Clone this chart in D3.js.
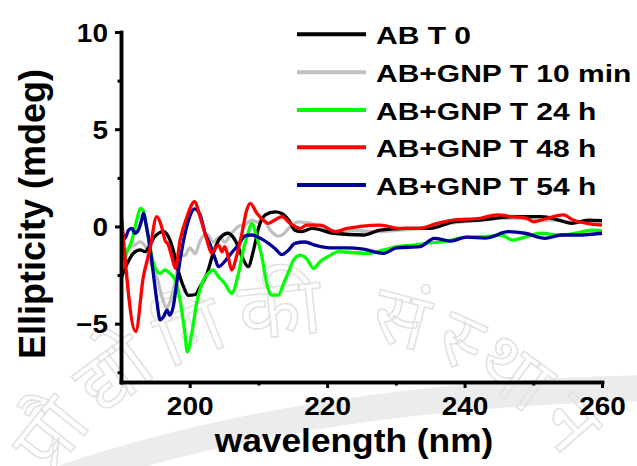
<!DOCTYPE html>
<html>
<head>
<meta charset="utf-8">
<script src="https://cdn.jsdelivr.net/npm/d3@7"></script>
<style>
  html, body { margin: 0; padding: 0; background: #ffffff; }
  svg { display: block; }
  text { font-family: "Liberation Sans", Arial, sans-serif; font-weight: bold; fill: #000; }
</style>
</head>
<body>
<svg id="chart" width="637" height="466"></svg>
<script>
// ---------------- data ----------------
const seriesNames = ["AB T 0", "AB+GNP T 10 min", "AB+GNP T 24 h", "AB+GNP T 48 h", "AB+GNP T 54 h"];
const seriesColors = ["#000000", "#c0c0c0", "#00ff00", "#ff0000", "#000099"];

const abT0_wl   = [190.1,190.8,191.8,192.8,193.5,194.2,194.9,196.2,196.9,197.6,198.3,199.1,199.8,200.8,201.5,202.5,203.4,204.4,205.6,206.6,207.8,208.5,209.3,210.0,211.0,212.4,213.4,214.4,215.3,216.3,217.8,220.9,225.3,227.7,231.6,235.0,238.4,242.3,247.1,251.2,253.7,255.6,258.0,260.0];
const abT0_mdeg = [-2.59,-1.99,-1.38,-1.21,-1.3,-0.96,-0.53,-0.27,-0.53,-1.21,-2.24,-3.1,-3.55,-3.5,-3.1,-2.45,-1.4,-0.6,-0.35,-0.7,-1.7,-2.07,-1.2,-0.1,0.59,0.75,0.67,0.33,-0.19,-0.27,-0.1,-0.35,-0.44,-0.19,-0.1,-0.1,0.24,0.33,0.5,0.5,0.33,0.16,0.33,0.3];

const gnp10m_wl   = [190.1,191.0,192.0,192.7,193.5,194.2,195.2,196.1,196.6,197.1,197.9,198.6,199.3,200.0,200.8,201.5,202.5,203.4,204.3,205.1,206.1,207.1,208.1,209.0,210.0,210.4,211.9,212.9,213.6,214.4,215.8,217.7,219.4,221.4,223.8,226.7,230.1,233.5,236.0,239.8,244.7,248.1,250.5,252.9,255.4,258.3,260.0];
const gnp10m_mdeg = [-1.5,-1.13,-0.96,-0.79,-1.0,-1.8,-2.59,-3.79,-4.2,-3.9,-2.8,-1.5,-1.5,-1.1,-1.4,-0.75,-0.4,-0.8,-0.55,-0.8,-0.35,0.0,0.1,0.33,0.2,0.45,-0.27,-0.5,-0.4,-0.1,0.24,0.16,-0.1,-0.27,-0.2,-0.27,-0.2,-0.1,0.07,0.24,0.42,0.42,0.33,0.33,0.24,0.24,0.24];

const gnp24h_wl   = [190.1,190.8,191.6,192.3,192.8,193.2,193.7,194.2,194.9,195.7,196.4,197.1,197.9,198.6,199.3,199.65,200.3,201.0,202.0,202.7,203.4,204.2,205.1,206.1,207.1,207.8,208.5,209.0,209.75,210.5,211.2,211.9,212.9,213.7,214.4,215.1,216.1,217.0,218.0,219.0,220.4,221.6,223.8,226.2,228.2,230.1,232.5,235.0,237.4,240.3,243.0,245.4,246.9,248.8,251.2,253.7,256.1,258.5,260.0];
const gnp24h_mdeg = [-2.24,-1.38,-0.7,0.33,0.93,0.84,0,-1.04,-2.07,-2.41,-2.24,-2.41,-2.76,-3.79,-5.5,-6.45,-5.5,-3.96,-2.76,-2.41,-2.24,-2.59,-2.93,-3.44,-2.41,-1.21,-0.35,0.16,-0.53,-1.56,-2.9,-3.53,-3.53,-2.9,-2.33,-1.73,-1.47,-1.65,-2.15,-1.8,-1.5,-1.3,-1.35,-1.38,-1.21,-1.04,-0.96,-0.85,-0.75,-0.55,-0.53,-0.44,-0.7,-0.55,-0.35,-0.44,-0.35,-0.19,-0.22];

const gnp48h_wl   = [190.1,192.14,193.25,194.2,195.2,195.9,196.4,196.9,197.4,197.9,198.6,199.6,200.7,201.5,202.5,203.2,203.7,204.2,204.7,205.1,205.6,206.1,206.8,207.6,208.3,208.8,209.8,210.7,211.4,212.4,213.4,214.6,216.1,217.0,219.0,221.2,222.9,224.8,227.7,230.6,233.5,236.0,238.4,242.3,244.7,247.1,249.1,250.0,252.0,254.4,255.8,257.8,260.0];
const gnp48h_mdeg = [0.42,-5.4,-2.6,-1.2,0.5,0.0,-0.7,-0.96,-1.56,-2.15,-0.7,0.5,1.27,0.5,-0.7,-1.38,-1.13,-0.96,-1.3,-1.04,-1.56,-2.24,-1.56,-0.35,0.84,1.19,0.67,0.33,0.16,0.33,0.5,0.16,-0.1,0.07,0.07,-0.27,-0.1,0,0.07,-0.1,-0.1,0.16,0.33,0.42,0.59,0.5,0.42,0.24,0.42,0.59,0.33,0.16,0.07];

const gnp54h_wl   = [190.1,190.6,191.1,191.6,192.0,192.5,193.0,193.25,193.7,194.2,194.7,195.2,195.7,196.2,196.7,197.1,197.6,198.1,198.6,199.3,200.0,200.7,201.5,202.2,203.0,203.7,204.2,205.1,206.1,207.1,208.0,209.0,210.5,212.4,213.4,214.4,215.3,216.8,218.2,220.4,222.8,225.3,228.2,230.1,233.5,235.6,237.9,240.3,243.0,246.4,248.8,251.7,254.1,256.5,260.0];
const gnp54h_mdeg = [-0.19,-0.61,-0.19,-0.1,-0.35,-0.2,0.33,0.67,0,-1.04,-2.41,-3.79,-4.81,-4.64,-4.3,-4.56,-4.13,-2.93,-1.73,-0.4,0.5,0.9,0.62,-0.3,-0.96,-1.65,-2.07,-1.8,-1.35,-0.96,-0.5,-0.44,-0.65,-1.13,-1.45,-1.21,-0.87,-0.8,-0.96,-1.1,-1.1,-1.17,-1.38,-1.1,-1.04,-0.61,-0.75,-0.55,-0.6,-0.27,-0.35,-0.61,-0.44,-0.44,-0.35];

const xMajorTicks = [200, 220, 240, 260];
const xMinorTicks = [210, 230, 250];
const yMajorTicks = [-5, 0, 5, 10];
const yMinorTicks = [-7.5, -2.5, 2.5, 7.5];
const xTitle = "wavelength (nm)";
const yTitle = "Ellipticity (mdeg)";
const watermarkText = "प्रौद्योगिकी संस्थान";

// ---------------- chart ----------------
const svg = d3.select("#chart");
const x = d3.scaleLinear().domain([190, 260]).range([121, 602]);
const y = d3.scaleLinear().domain([-8, 10]).range([382, 32]);

// stretch text horizontally to match the reference's wide glyphs
function stretch(sel, factor) {
  sel.each(function () {
    const len = this.getComputedTextLength();
    d3.select(this).attr("textLength", len * factor).attr("lengthAdjust", "spacingAndGlyphs");
  });
}

// faint background seal (watermark)
const wm = svg.append("g");
wm.append("path")
  .attr("d", "M -10,505 Q 260,395 650,388")
  .attr("fill", "none").attr("stroke", "#ececec").attr("stroke-width", 26);
wm.append("path").attr("id", "wmArc")
  .attr("d", "M 32,515 A 312,312 0 0,1 598,515")
  .attr("fill", "none");
const wmt = wm.append("text")
  .style("font-family", "'Noto Sans', 'DejaVu Sans', sans-serif")
  .style("font-weight", "normal")
  .style("font-size", "80px")
  .style("fill", "none")
  .style("stroke", "#e2e2e2")
  .style("stroke-width", "1.6px");
wmt.append("textPath").attr("href", "#wmArc").attr("startOffset", "6%")
  .attr("textLength", 600).attr("lengthAdjust", "spacing")
  .text(watermarkText);

// lines
const series = [
  {wl: abT0_wl, v: abT0_mdeg},
  {wl: gnp10m_wl, v: gnp10m_mdeg},
  {wl: gnp24h_wl, v: gnp24h_mdeg},
  {wl: gnp48h_wl, v: gnp48h_mdeg},
  {wl: gnp54h_wl, v: gnp54h_mdeg}
].map((s, i) => ({name: seriesNames[i], color: seriesColors[i], pts: s.wl.map((w, j) => [w, s.v[j]])}));

const line = d3.line().x(d => x(d[0])).y(d => y(d[1])).curve(d3.curveMonotoneX);
const drawOrder = [1, 0, 2, 4, 3];
svg.append("g").selectAll("path").data(drawOrder.map(i => series[i])).join("path")
  .attr("d", d => line(d.pts))
  .attr("fill", "none")
  .attr("stroke", d => d.color)
  .attr("stroke-width", 3.3)
  .attr("stroke-linejoin", "round");

// axes
const axisW = 3.5;
const gx = svg.append("g").attr("transform", `translate(0,${y(-8)})`)
  .call(d3.axisBottom(x).tickValues(xMajorTicks).tickSize(6).tickSizeOuter(0));
const gxm = svg.append("g").attr("transform", `translate(0,${y(-8)})`)
  .call(d3.axisBottom(x).tickValues(xMinorTicks).tickSize(3.5).tickFormat("").tickSizeOuter(0));
const gy = svg.append("g").attr("transform", `translate(${x(190)},0)`)
  .call(d3.axisLeft(y).tickValues(yMajorTicks).tickSize(6).tickSizeOuter(0));
const gym = svg.append("g").attr("transform", `translate(${x(190)},0)`)
  .call(d3.axisLeft(y).tickValues(yMinorTicks).tickSize(3.5).tickFormat("").tickSizeOuter(0));

[gx, gxm, gy, gym].forEach(g => {
  g.select(".domain").attr("stroke", "#000").attr("stroke-width", axisW).attr("stroke-linecap", "square");
  g.selectAll(".tick line").attr("stroke", "#000").attr("stroke-width", 3);
});
gx.selectAll(".tick text")
  .attr("y", 33).attr("dy", 0)
  .style("font-size", "25px").style("font-family", "'Liberation Sans', Arial, sans-serif").style("font-weight", "bold")
  .attr("fill", "#000");
gy.selectAll(".tick text")
  .attr("x", -13).attr("dy", "0.36em")
  .style("font-size", "25px").style("font-family", "'Liberation Sans', Arial, sans-serif").style("font-weight", "bold")
  .attr("fill", "#000");
stretch(gx.selectAll(".tick text"), 1.12);
stretch(gy.selectAll(".tick text"), 1.12);

// axis titles
const xt = svg.append("text").attr("x", 354).attr("y", 452).attr("text-anchor", "middle")
  .style("font-size", "33px").text(xTitle);
stretch(xt, 1.07);
const yt = svg.append("text").attr("transform", "translate(45,214) rotate(-90)").attr("text-anchor", "middle")
  .style("font-size", "36px").text(yTitle);
stretch(yt, 1.0);

// legend
const legY = [34.3, 72.3, 110, 147.3, 185];
const leg = svg.append("g");
series.forEach((s, i) => {
  leg.append("line").attr("x1", 297).attr("x2", 366).attr("y1", legY[i]).attr("y2", legY[i])
    .attr("stroke", s.color).attr("stroke-width", 4);
  const t = leg.append("text").attr("x", 376).attr("y", legY[i]).attr("dy", "0.4em")
    .style("font-size", "24px").text(s.name);
  stretch(t, 1.25);
});
</script>
</body>
</html>
